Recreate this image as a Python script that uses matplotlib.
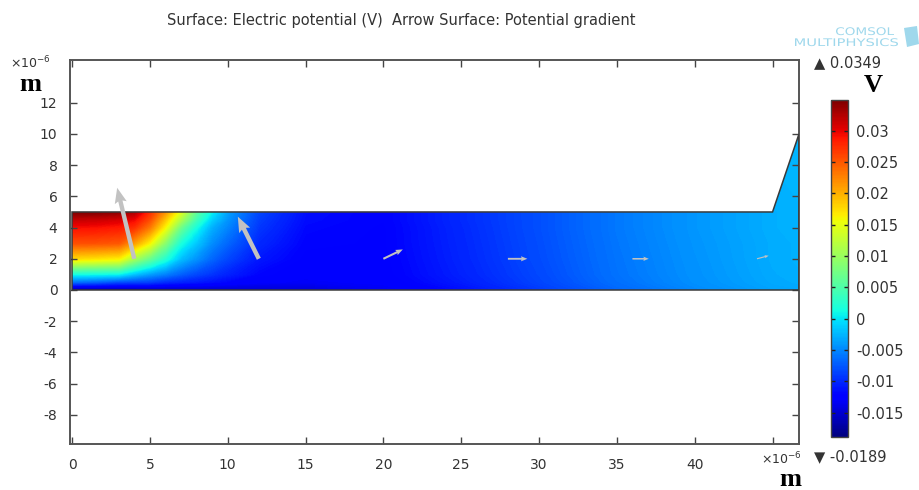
import matplotlib
matplotlib.use("Agg")
import matplotlib.pyplot as plt
import numpy as np
from matplotlib.patches import Polygon, PathPatch
from matplotlib.textpath import TextPath
from matplotlib.transforms import Affine2D
from matplotlib.colors import Normalize
from matplotlib.cm import ScalarMappable

plt.rcParams['axes.unicode_minus'] = False

# mesh nodes (x10^-6 m) and surface potential (V)
x_nodes = [0, 1.5, 3, 4, 5, 6, 7, 8, 9, 10, 12, 15, 20, 25, 30, 35, 40, 45, 46.7]
y_nodes = [0, 0.5, 1, 2, 3, 4, 4.5, 5, 10]
potential = [
    [-0.0178, -0.0175, -0.0170, -0.0168, -0.0165, -0.0162, -0.0160, -0.0158, -0.0156, -0.0155, -0.0152, -0.0148, -0.0135, -0.0115, -0.0092, -0.0068, -0.0050, -0.0036, -0.0034],
    [-0.0065, -0.0072, -0.0085, -0.0087, -0.0090, -0.0100, -0.0105, -0.0110, -0.0115, -0.0120, -0.0128, -0.0132, -0.0128, -0.0108, -0.0086, -0.0063, -0.0046, -0.0033, -0.0031],
    [0.0010, 0.0008, 0.0005, -0.0020, -0.0040, -0.0055, -0.0072, -0.0085, -0.0095, -0.0105, -0.0120, -0.0128, -0.0125, -0.0105, -0.0084, -0.0061, -0.0045, -0.0032, -0.0030],
    [0.0175, 0.0170, 0.0163, 0.0107, 0.0066, 0.0022, -0.0021, -0.0045, -0.0068, -0.0085, -0.0110, -0.0124, -0.0124, -0.0103, -0.0082, -0.0060, -0.0044, -0.0031, -0.0029],
    [0.0255, 0.0254, 0.0250, 0.0210, 0.0160, 0.0087, 0.0016, -0.0017, -0.0048, -0.0068, -0.0101, -0.0121, -0.0123, -0.0102, -0.0081, -0.0059, -0.0043, -0.0031, -0.0029],
    [0.0292, 0.0290, 0.0285, 0.0272, 0.0230, 0.0158, 0.0069, 0.0013, -0.0030, -0.0052, -0.0093, -0.0118, -0.0123, -0.0101, -0.0080, -0.0058, -0.0042, -0.0030, -0.0028],
    [0.0315, 0.0313, 0.0307, 0.0295, 0.0255, 0.0186, 0.0110, 0.0040, -0.0013, -0.0044, -0.0089, -0.0116, -0.0122, -0.0100, -0.0080, -0.0058, -0.0042, -0.0030, -0.0028],
    [0.0349, 0.0347, 0.0340, 0.0325, 0.0274, 0.0215, 0.0144, 0.0059, 0.0005, -0.0037, -0.0085, -0.0115, -0.0122, -0.0100, -0.0080, -0.0058, -0.0042, -0.0030, -0.0028],
    [0.0349, 0.0347, 0.0340, 0.0325, 0.0274, 0.0215, 0.0144, 0.0059, 0.0005, -0.0037, -0.0085, -0.0115, -0.0122, -0.0100, -0.0080, -0.0058, -0.0042, -0.0026, -0.0025],
]
v_min, v_max = -0.0189, 0.0349

# geometry outline
geom_x = [0, 46.7, 46.7, 45, 0]
geom_y = [0, 0, 10, 5, 5]

# arrow surface: potential gradient
arrow_x = [4, 12, 20, 28, 36, 44]
arrow_y = [2, 2, 2, 2, 2, 2]
arrow_u = [-1.1, -1.35, 1.25, 1.25, 1.05, 0.75]
arrow_v = [4.55, 2.7, 0.6, 0.0, 0.0, 0.2]

x_ticks = [0, 5, 10, 15, 20, 25, 30, 35, 40, 45]
x_labels = ['0', '5', '10', '15', '20', '25', '30', '35', '40', '']
y_ticks = [-8, -6, -4, -2, 0, 2, 4, 6, 8, 10, 12]
cbar_ticks = [-0.015, -0.01, -0.005, 0, 0.005, 0.01, 0.015, 0.02, 0.025, 0.03]

W, H = 920, 490
txt = '#333333'

def fx(px):
    return px / W

def fy(py):
    return 1 - py / H

fig = plt.figure(figsize=(9.2, 4.9), dpi=100)
fig.patch.set_facecolor('white')
ax = fig.add_axes([fx(70), fy(444), 729 / W, 384 / H])

norm = Normalize(vmin=v_min, vmax=v_max)
field = ax.contourf(x_nodes, y_nodes, np.array(potential),
                    levels=np.linspace(v_min, v_max, 541), cmap='jet', norm=norm,
                    antialiased=False, zorder=1)
outline = Polygon(np.column_stack([geom_x, geom_y]), closed=True, fill=False,
                  edgecolor='#3a3a3a', linewidth=1.1, zorder=3)
ax.add_patch(outline)
field.set_clip_path(outline)

ax.quiver(arrow_x, arrow_y, arrow_u, arrow_v, angles='xy', scale_units='xy', scale=1,
          color='#c2c2c2', width=0.006, headwidth=2.8, headlength=3.5,
          headaxislength=3.1, minshaft=3, zorder=4)

ax.set_xlim(-0.13, 46.7)
ax.set_ylim(-9.87, 14.74)
ax.set_xticks(x_ticks)
ax.set_xticklabels(x_labels)
ax.set_yticks(y_ticks)
ax.tick_params(direction='in', top=True, right=True, length=5, width=1,
               color='#444444', labelcolor=txt, labelsize=10)
ax.tick_params(axis='x', pad=10)
ax.tick_params(axis='y', pad=9)
for s in ax.spines.values():
    s.set_color('#555555')
    s.set_linewidth(1.4)

# colorbar
cax = fig.add_axes([fx(831), fy(437), 17 / W, 337 / H])
cb = fig.colorbar(ScalarMappable(norm=norm, cmap='jet'), cax=cax, ticks=cbar_ticks)
cb.ax.set_yticklabels([f'{t:g}' for t in cbar_ticks])
cax.tick_params(direction='in', left=True, right=True, length=3, width=1,
                color='#222222', labelcolor=txt, labelsize=10.5, pad=6)
cb.outline.set_edgecolor('#444444')
cb.outline.set_linewidth(1.0)

# texts
fig.text(fx(401), fy(20), 'Surface: Electric potential (V)  Arrow Surface: Potential gradient',
         ha='center', va='center', fontsize=10.5, color=txt)
fig.text(fx(30), fy(63), r'$\times10^{-6}$', ha='center', va='center', fontsize=9, color=txt)
fig.text(fx(781), fy(459), r'$\times10^{-6}$', ha='center', va='center', fontsize=9, color=txt)
fig.text(fx(30), fy(84), 'm', family='Liberation Serif', weight='bold', fontsize=19,
         ha='center', va='center')
fig.text(fx(790), fy(479), 'm', family='Liberation Serif', weight='bold', fontsize=19,
         ha='center', va='center')
fig.text(fx(873), fy(86), 'V', family='Liberation Serif', weight='bold', fontsize=19,
         ha='center', va='center')
fig.text(fx(814), fy(63), '\u25b2 0.0349', ha='left', va='center', fontsize=10.5, color=txt)
fig.text(fx(814), fy(457), '\u25bc -0.0189', ha='left', va='center', fontsize=10.5, color=txt)

# COMSOL logo, stretched lettering drawn in pixel space
logo = '#9fd8ec'
for word, x0, y0, width in [('COMSOL', 836, 35, 58), ('MULTIPHYSICS', 795, 46, 103)]:
    tp = TextPath((0, 0), word, size=10.5, prop={'family': 'DejaVu Sans'})
    bb = tp.get_extents()
    sx = width / bb.width
    tr = Affine2D().translate(-bb.x0, 0).scale(sx, 1.0).translate(x0, H - y0)
    fig.patches.append(PathPatch(tp, transform=tr, facecolor=logo, edgecolor='none'))
cube = Polygon([[fx(904), fy(28)], [fx(917), fy(26)], [fx(919), fy(44)], [fx(907), fy(47)]],
               closed=True, facecolor=logo, edgecolor='none', transform=fig.transFigure)
fig.patches.append(cube)

fig.savefig('out.png', dpi=100)
